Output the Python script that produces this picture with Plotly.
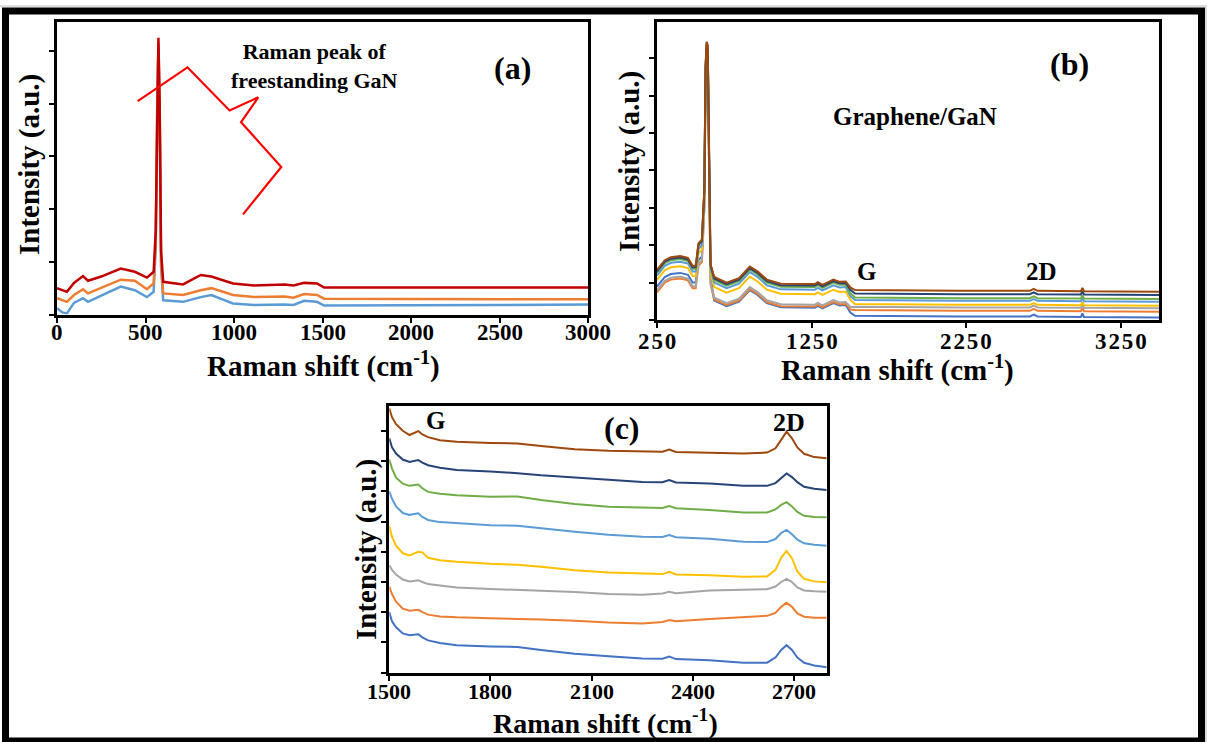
import plotly.graph_objects as go

W, H = 1207, 742
FONT = "Liberation Serif"

# ---------------- Panel (a): freestanding GaN ----------------
a_x = [0, 30, 56, 96, 147, 175, 250, 360, 440, 508, 546, 558, 566, 573, 580, 588, 600,
       712, 812, 872, 994, 1113, 1286, 1336, 1396, 1469, 1509, 2000, 2500, 3000]
a_red = [0.50, 0.47, 0.43, 0.60, 0.73, 0.64, 0.72, 0.87, 0.81, 0.70, 0.81, 1.6, 4.0, 5.25, 4.0, 1.2, 0.62,
         0.57, 0.75, 0.72, 0.59, 0.55, 0.57, 0.55, 0.60, 0.59, 0.51, 0.51, 0.51, 0.51]
a_orange = [0.31, 0.28, 0.24, 0.37, 0.48, 0.40, 0.50, 0.66, 0.64, 0.48, 0.59, 1.4, 3.9, 5.15, 3.9, 1.0, 0.40,
            0.37, 0.46, 0.50, 0.37, 0.33, 0.34, 0.32, 0.39, 0.37, 0.30, 0.29, 0.29, 0.29]
a_blue = [0.12, 0.04, 0.02, 0.22, 0.31, 0.24, 0.36, 0.53, 0.46, 0.33, 0.43, 1.3, 3.8, 5.1, 3.8, 0.9, 0.27,
          0.24, 0.33, 0.37, 0.21, 0.18, 0.19, 0.18, 0.26, 0.24, 0.17, 0.17, 0.18, 0.19]
a_xticks = [0, 500, 1000, 1500, 2000, 2500, 3000]
arrow_x = [456, 737, 975, 1137, 1040, 1267, 1051]
arrow_y = [4.05, 4.69, 3.87, 4.12, 3.65, 2.80, 1.90]

# ---------------- Panel (b): Graphene/GaN full range ----------------
b_x = [250, 300, 340, 400, 450, 480, 500, 518, 540, 556, 564, 571, 578, 586, 596, 620, 700, 780, 850, 900,
       960, 1050, 1200, 1270, 1290, 1320, 1390, 1430, 1470, 1500, 1530, 1800, 2200, 2660, 2685, 2710,
       2990, 3000, 3010, 3500]
b_brown = [1.34, 1.60, 1.68, 1.71, 1.66, 1.45, 1.45, 2.05, 2.15, 3.5, 6.8, 7.44, 7.35, 4.2, 1.5,
           1.15, 1.00, 1.12, 1.43, 1.30, 1.08, 0.97, 0.95, 0.96, 1.01, 0.94, 1.08, 1.02, 1.03, 0.87,
           0.80, 0.79, 0.78, 0.78, 0.83, 0.78, 0.77, 0.86, 0.77, 0.757]
b_darkblue = [1.30, 1.56, 1.64, 1.67, 1.62, 1.41, 1.41, 2.01, 2.11, 3.47, 6.78, 7.42, 7.30, 4.15, 1.47,
              1.11, 0.96, 1.08, 1.39, 1.26, 1.04, 0.93, 0.91, 0.92, 0.97, 0.90, 1.04, 0.98, 0.99, 0.81,
              0.711, 0.701, 0.691, 0.691, 0.741, 0.691, 0.681, 0.771, 0.681, 0.668]
b_green = [1.26, 1.52, 1.60, 1.63, 1.58, 1.37, 1.37, 1.99, 2.12, 3.45, 6.75, 7.38, 7.25, 4.1, 1.44,
           1.07, 0.92, 1.04, 1.35, 1.22, 1.00, 0.89, 0.87, 0.88, 0.93, 0.86, 1.00, 0.94, 0.95, 0.72,
           0.604, 0.594, 0.584, 0.584, 0.634, 0.584, 0.574, 0.664, 0.574, 0.561]
b_lightblue = [1.19, 1.45, 1.53, 1.56, 1.51, 1.30, 1.30, 1.90, 2.00, 3.40, 6.7, 7.33, 7.2, 4.05, 1.38,
               1.00, 0.85, 0.97, 1.28, 1.15, 0.93, 0.82, 0.80, 0.81, 0.86, 0.79, 0.93, 0.87, 0.88, 0.64,
               0.532, 0.522, 0.512, 0.512, 0.562, 0.512, 0.502, 0.592, 0.502, 0.489]
b_yellow = [1.07, 1.33, 1.41, 1.44, 1.39, 1.18, 1.18, 1.78, 1.88, 3.3, 6.6, 7.25, 7.1, 3.95, 1.28,
            0.88, 0.73, 0.85, 1.16, 1.03, 0.81, 0.70, 0.68, 0.69, 0.74, 0.67, 0.81, 0.75, 0.76, 0.54,
            0.425, 0.415, 0.405, 0.405, 0.455, 0.405, 0.395, 0.485, 0.395, 0.382]
b_gray = [0.79, 1.05, 1.13, 1.16, 1.11, 0.90, 0.90, 1.50, 1.60, 3.0, 6.3, 7.0, 6.9, 3.7, 1.0,
          0.60, 0.45, 0.57, 0.88, 0.75, 0.53, 0.42, 0.40, 0.41, 0.46, 0.39, 0.53, 0.47, 0.48, 0.35,
          0.356, 0.346, 0.336, 0.336, 0.386, 0.336, 0.326, 0.416, 0.326, 0.313]
b_orange = [0.74, 1.00, 1.08, 1.11, 1.06, 0.85, 0.85, 1.45, 1.55, 2.95, 6.2, 6.95, 6.85, 3.65, 0.95,
            0.55, 0.40, 0.52, 0.83, 0.70, 0.48, 0.37, 0.35, 0.36, 0.41, 0.34, 0.48, 0.42, 0.43, 0.28,
            0.265, 0.255, 0.245, 0.245, 0.295, 0.245, 0.235, 0.325, 0.235, 0.222]
b_blue = [0.89, 1.15, 1.23, 1.26, 1.21, 1.00, 1.00, 1.60, 1.70, 3.2, 6.5, 7.15, 7.0, 3.85, 1.15,
          0.52, 0.37, 0.49, 0.80, 0.67, 0.45, 0.34, 0.32, 0.33, 0.38, 0.31, 0.45, 0.39, 0.40, 0.20,
          0.113, 0.103, 0.093, 0.093, 0.143, 0.093, 0.083, 0.173, 0.083, 0.07]
b_xticks = [250, 1250, 2250, 3250]

# ---------------- Panel (c): G and 2D region ----------------
c_x = [1500, 1508, 1520, 1540, 1560, 1575, 1586, 1598, 1615, 1650, 1700, 1800, 1880, 1950, 2050, 2150,
       2250, 2310, 2330, 2350, 2450, 2550, 2620, 2645, 2662, 2678, 2694, 2710, 2730, 2760, 2797]
c_brown = [8.74, 8.45, 8.22, 8.00, 7.86, 7.92, 7.99, 7.88, 7.79, 7.69, 7.64, 7.60, 7.58, 7.50, 7.39, 7.34,
           7.31, 7.31, 7.38, 7.30, 7.27, 7.25, 7.28, 7.42, 7.70, 7.97, 7.75, 7.45, 7.24, 7.13, 7.09]
c_darkblue = [7.75, 7.45, 7.25, 7.05, 6.97, 7.00, 7.03, 6.95, 6.86, 6.78, 6.70, 6.65, 6.60, 6.53, 6.45, 6.37,
              6.31, 6.30, 6.37, 6.29, 6.26, 6.18, 6.18, 6.27, 6.42, 6.59, 6.47, 6.30, 6.15, 6.08, 6.04]
c_green = [7.05, 6.75, 6.45, 6.25, 6.18, 6.20, 6.22, 6.10, 5.98, 5.92, 5.87, 5.82, 5.83, 5.71, 5.58, 5.49,
           5.45, 5.45, 5.51, 5.44, 5.38, 5.30, 5.30, 5.40, 5.55, 5.64, 5.50, 5.32, 5.19, 5.15, 5.14]
c_lightblue = [6.00, 5.75, 5.50, 5.28, 5.22, 5.25, 5.27, 5.15, 5.05, 4.98, 4.94, 4.88, 4.86, 4.77, 4.66, 4.56,
               4.50, 4.49, 4.55, 4.48, 4.43, 4.33, 4.32, 4.42, 4.62, 4.72, 4.58, 4.40, 4.28, 4.23, 4.20]
c_yellow = [4.85, 4.50, 4.20, 3.95, 3.88, 3.95, 4.00, 3.98, 3.80, 3.72, 3.67, 3.60, 3.57, 3.50, 3.39, 3.31,
            3.27, 3.26, 3.34, 3.25, 3.22, 3.17, 3.18, 3.40, 3.80, 4.03, 3.78, 3.35, 3.10, 3.02, 2.99]
c_gray = [3.55, 3.40, 3.25, 3.08, 3.02, 3.04, 3.06, 3.00, 2.93, 2.88, 2.82, 2.77, 2.75, 2.71, 2.67, 2.60,
          2.58, 2.62, 2.68, 2.63, 2.72, 2.74, 2.76, 2.85, 3.00, 3.10, 3.00, 2.82, 2.72, 2.69, 2.68]
c_orange = [2.85, 2.60, 2.35, 2.12, 2.05, 2.06, 2.08, 2.00, 1.92, 1.86, 1.83, 1.80, 1.79, 1.76, 1.72, 1.66,
            1.63, 1.68, 1.74, 1.70, 1.78, 1.83, 1.88, 1.98, 2.18, 2.31, 2.18, 1.96, 1.85, 1.82, 1.82]
c_blue = [2.00, 1.70, 1.50, 1.30, 1.24, 1.25, 1.27, 1.17, 1.07, 0.98, 0.91, 0.87, 0.85, 0.75, 0.63, 0.54,
          0.47, 0.46, 0.53, 0.45, 0.41, 0.33, 0.33, 0.50, 0.75, 0.91, 0.75, 0.50, 0.33, 0.24, 0.18]
c_xticks = [1500, 1800, 2100, 2400, 2700]

COL = {"blue": "#4472C4", "orange": "#ED7D31", "gray": "#A5A5A5", "yellow": "#FFC000",
       "lightblue": "#5B9BD5", "green": "#70AD47", "darkblue": "#264478", "brown": "#9E480E"}


def px(x):
    return x / W


def py(y):
    return 1 - y / H


fig = go.Figure()

# panel a traces
for ys, c in [(a_blue, "#5B9BD5"), (a_orange, "#ED7D31"), (a_red, "#C00000")]:
    fig.add_trace(go.Scatter(x=a_x, y=ys, mode="lines", line=dict(color=c, width=2.5),
                             xaxis="x", yaxis="y", showlegend=False))
fig.add_trace(go.Scatter(x=arrow_x, y=arrow_y, mode="lines", line=dict(color="#FF0000", width=2.2),
                         xaxis="x", yaxis="y", showlegend=False))

# panel b traces
b_series = [(b_blue, "blue"), (b_orange, "orange"), (b_gray, "gray"), (b_yellow, "yellow"),
            (b_lightblue, "lightblue"), (b_green, "green"), (b_darkblue, "darkblue"), (b_brown, "brown")]
for ys, c in b_series:
    fig.add_trace(go.Scatter(x=b_x, y=ys, mode="lines", line=dict(color=COL[c], width=2),
                             xaxis="x2", yaxis="y2", showlegend=False))

# panel c traces
c_series = [(c_blue, "blue"), (c_orange, "orange"), (c_gray, "gray"), (c_yellow, "yellow"),
            (c_lightblue, "lightblue"), (c_green, "green"), (c_darkblue, "darkblue"), (c_brown, "brown")]
for ys, c in c_series:
    fig.add_trace(go.Scatter(x=c_x, y=ys, mode="lines", line=dict(color=COL[c], width=2),
                             xaxis="x3", yaxis="y3", showlegend=False))

common = dict(showline=True, linewidth=3, linecolor="black", mirror=True, showgrid=False,
              zeroline=False, ticks="outside", ticklen=5, tickwidth=2, tickcolor="black",
              showticklabels=False, automargin=False)

fig.update_layout(
    width=W, height=H, margin=dict(l=0, r=0, t=0, b=0, autoexpand=False),
    paper_bgcolor="white", plot_bgcolor="white", showlegend=False,
    xaxis=dict(domain=[px(57), px(588)], range=[0, 3000], tickvals=a_xticks, anchor="y", **common),
    yaxis=dict(domain=[py(314.5), py(22)], range=[0, 5.55], tickvals=[0, 1, 2, 3, 4, 5],
               anchor="x", **common),
    xaxis2=dict(domain=[px(657), px(1159)], range=[250, 3495], tickvals=b_xticks, anchor="y2", **common),
    yaxis2=dict(domain=[py(320), py(22)], range=[0, 7.97], tickvals=[0, 1, 2, 3, 4, 5, 6, 7],
                anchor="x2", **common),
    xaxis3=dict(domain=[px(389.3), px(826.7)], range=[1500, 2797], tickvals=c_xticks, anchor="y3", **common),
    yaxis3=dict(domain=[py(672.7), py(406)], range=[0, 8.82], tickvals=list(range(9)),
                anchor="x3", **common),
)


def label(text, x, y, size, angle=0):
    fig.add_annotation(text=text, x=px(x), y=py(y), xref="paper", yref="paper",
                       xanchor="center", yanchor="middle", showarrow=False, textangle=angle,
                       font=dict(family=FONT, size=size, color="black", weight="bold"))


# tick labels placed on the axes' own scales
def ticklabels(xref, vals, y, size, spaced=False):
    for v in vals:
        t = str(v)
        if spaced:
            t = "\u200a".join(t)
        fig.add_annotation(text=t, x=v, y=py(y), xref=xref, yref="paper", xanchor="center",
                           yanchor="middle", showarrow=False,
                           font=dict(family=FONT, size=size, color="black", weight="bold"))


ticklabels("x", a_xticks, 332, 23)
ticklabels("x2", b_xticks, 342, 23, spaced=True)
ticklabels("x3", c_xticks, 691, 22)

title = "Raman shift (cm<sup>-1</sup>)"
label(title, 323, 364, 29)
label(title, 897, 368, 29)
label(title, 605, 721, 28)
label("Intensity (a.u.)", 30, 165, 29, -90)
label("Intensity (a.u.)", 629, 162, 29, -90)
label("Intensity (a.u.)", 366, 550, 29, -90)
label("Raman peak of<br>freestanding GaN", 314, 66, 22)
label("(a)", 512, 68, 32)
label("(b)", 1069, 64, 32)
label("Graphene/GaN", 915, 116, 25)
label("G", 866, 272, 25)
label("2D", 1041, 272, 25)
label("(c)", 622, 428, 32)
label("G", 435, 421, 25)
label("2D", 789, 422, 26)

# outer frame
fig.add_shape(type="rect", xref="paper", yref="paper", x0=px(5.5), x1=px(1201.5), y0=py(741), y1=py(11),
              line=dict(color="black", width=7), layer="above")
fig.add_shape(type="line", xref="paper", yref="paper", x0=0, x1=1, y0=py(6), y1=py(6),
              line=dict(color="#BBBBBB", width=1))
fig.add_shape(type="line", xref="paper", yref="paper", x0=px(1206), x1=px(1206), y0=0, y1=py(6),
              line=dict(color="#BBBBBB", width=1))

fig.write_html("out.html")
